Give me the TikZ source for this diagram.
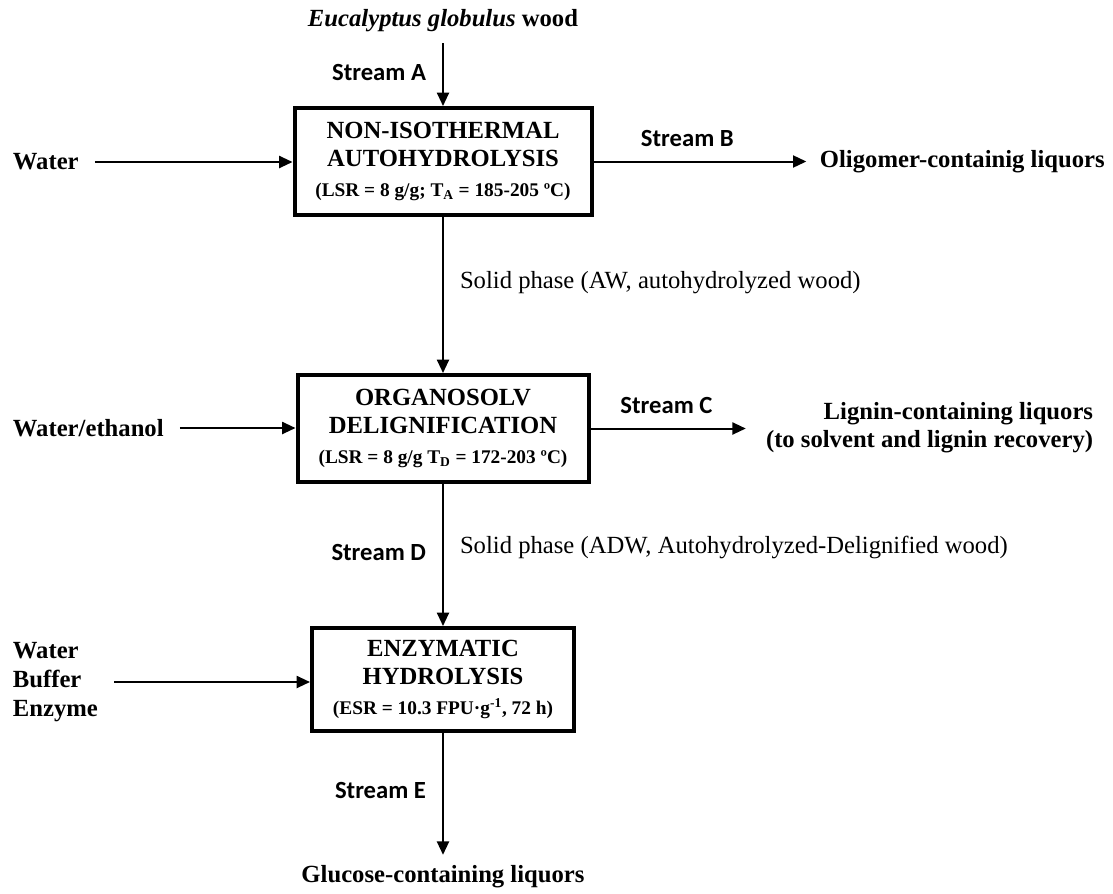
\documentclass[tikz,border=0pt]{standalone}
\usepackage{fontspec}
\setmainfont{Liberation Serif}
\newfontfamily\streamfont{Carlito}
\usetikzlibrary{arrows.meta, positioning}
\tikzset{%
	process/.style={
		draw,
		line width=3pt,
		align=center,
		inner sep=0pt,
		font=\bfseries\fontsize{18.5}{21.5}\selectfont
	},
	feed/.style={
		align=left,
		inner sep=2pt,
		font=\bfseries\fontsize{18.5}{19}\selectfont
	},
	stream/.style={
		inner sep=0pt,
		font=\streamfont\bfseries\fontsize{18.5}{20}\selectfont
	},
	phase/.style={
		inner sep=0pt,
		font=\fontsize{18.5}{21}\selectfont
	},
	flow/.style={line width=1.5pt, -{Triangle[length=10pt,width=9pt]}}
}
\newcommand{\cond}[1]{{\fontsize{14.5}{16}\selectfont #1}}

\begin{document}
\begin{tikzpicture}[x=0.75pt, y=-0.75pt]
	\useasboundingbox (0,0) rectangle (1113,893);
	
	% Process units
	\node[process, minimum width=297*0.75pt, minimum height=107*0.75pt] (auto) at (443,161.5)
		{NON-ISOTHERMAL\\AUTOHYDROLYSIS\\[1pt]\cond{(LSR = 8 g/g; T\textsubscript{A} = 185-205 ºC)}};
	\node[process, minimum width=291*0.75pt, minimum height=107*0.75pt] (orga) at (443,428.5)
		{ORGANOSOLV\\DELIGNIFICATION\\[1pt]\cond{(LSR = 8 g/g T\textsubscript{D} = 172-203 ºC)}};
	\node[process, minimum width=262*0.75pt, minimum height=103*0.75pt] (enzy) at (443,679.5)
		{ENZYMATIC\\HYDROLYSIS\\[1pt]\cond{(ESR = 10.3 FPU·g\textsuperscript{-1}, 72 h)}};
	
	% Feeds and products
	\node[feed] (wood) at (443,21) {\textit{Eucalyptus globulus} wood};
	\node[feed, anchor=west] (water) at (10,162) {Water};
	\node[feed, anchor=west] (solvent) at (10,428) {Water/ethanol};
	\node[feed, anchor=west, font=\bfseries\fontsize{18.5}{21.5}\selectfont] (enzmix) at (10,682) {Water\\Buffer\\Enzyme};
	\node[feed, anchor=west] (oligo) at (817,162) {Oligomer-containig liquors};
	\node[feed, anchor=east, align=right, font=\bfseries\fontsize{18.5}{21}\selectfont] (lignin) at (1096,428)
		{Lignin-containing liquors\\(to solvent and lignin recovery)};
	\node[feed] (glucose) at (443,877) {Glucose-containing liquors};
	
	% Streams
	\draw[flow, shorten <=6pt] (wood.south) -- (auto.north)
		node[stream, pos=0.53, left=12pt] (strA) {Stream A};
	\draw[flow, shorten <=10pt] (water.east) -- (water.east -| auto.west);
	\draw[flow, shorten >=8pt] (auto.east) -- (auto.east -| oligo.west)
		node[stream, pos=0.42, above=10pt] (strB) {Stream B};
	\draw[flow] (auto.south) -- (orga.north)
		node[phase, pos=0.42, right=12pt] (solidA) {Solid phase (AW, autohydrolyzed wood)};
	\draw[flow, shorten <=10pt] (solvent.east) -- (solvent.east -| orga.west);
	\draw[flow, shorten >=13pt] (orga.east) -- (orga.east -| lignin.west)
		node[stream, pos=0.44, above=10pt] (strC) {Stream C};
	\draw[flow] (orga.south) -- (enzy.north)
		node[stream, pos=0.48, left=12pt] (strD) {Stream D}
		node[phase, pos=0.45, right=12pt] (solidB) {Solid phase (ADW, Autohydrolyzed-Delignified wood)};
	\draw[flow, shorten <=10pt] (enzmix.east) -- (enzmix.east -| enzy.west);
	\draw[flow, shorten >=6pt] (enzy.south) -- (glucose.north)
		node[stream, pos=0.44, left=12pt] (strE) {Stream E};
	
\end{tikzpicture}
\end{document}
